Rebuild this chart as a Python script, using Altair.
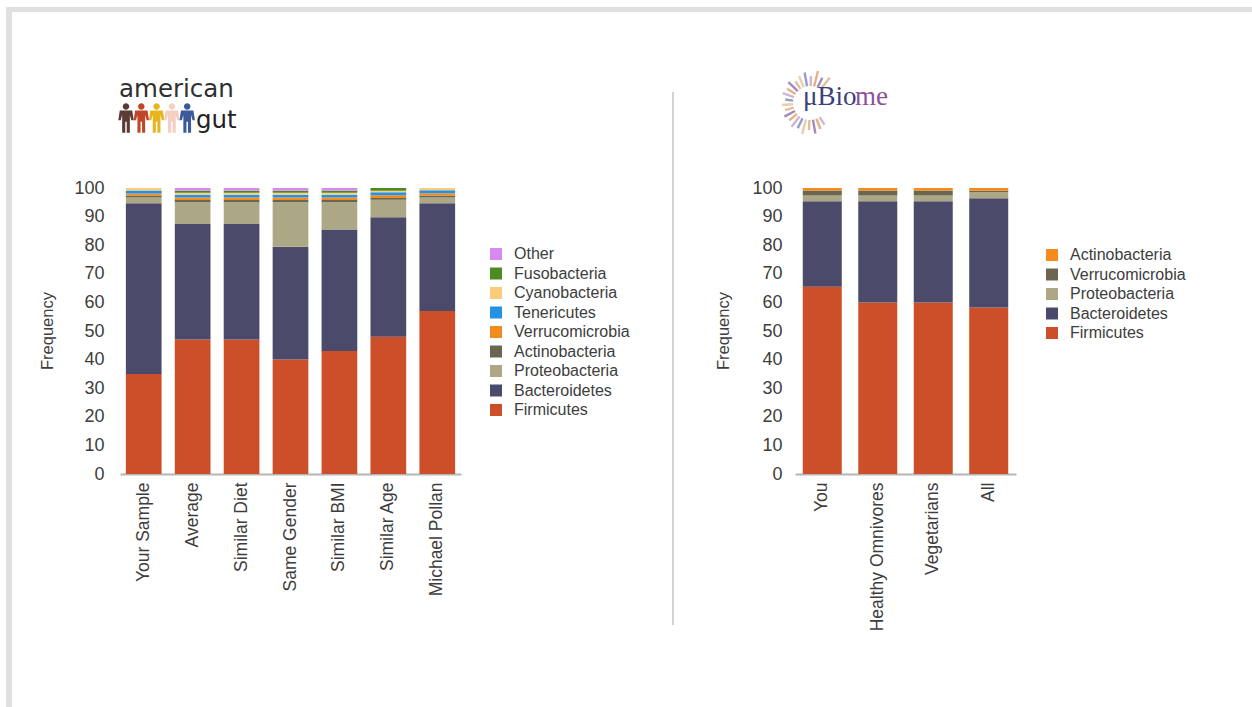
import altair as alt
import pandas as pd
import numpy as np

# ---------------- data ----------------
ag_samples = ["Your Sample", "Average", "Similar Diet", "Same Gender",
              "Similar BMI", "Similar Age", "Michael Pollan"]
ag_firmicutes = [35.0, 47.0, 47.0, 40.0, 43.0, 48.0, 57.0]
ag_bacteroidetes = [59.7, 40.4, 40.4, 39.5, 42.5, 41.8, 37.7]
ag_proteobacteria = [2.0, 7.6, 7.6, 15.5, 9.5, 6.1, 2.0]
ag_actinobacteria = [0.7, 0.8, 0.8, 0.8, 0.8, 0.6, 0.7]
ag_verrucomicrobia = [0.7, 0.9, 0.9, 0.9, 0.9, 1.0, 0.8]
ag_tenericutes = [1.0, 0.9, 0.9, 0.9, 0.9, 1.0, 1.0]
ag_cyanobacteria = [0.9, 0.7, 0.7, 0.7, 0.7, 0.5, 0.8]
ag_fusobacteria = [0.0, 0.7, 0.7, 0.7, 0.7, 1.0, 0.0]
ag_other = [0.0, 1.0, 1.0, 1.0, 1.0, 0.0, 0.0]

ag_phyla = ["Firmicutes", "Bacteroidetes", "Proteobacteria", "Actinobacteria",
            "Verrucomicrobia", "Tenericutes", "Cyanobacteria", "Fusobacteria", "Other"]
ag_values = [ag_firmicutes, ag_bacteroidetes, ag_proteobacteria, ag_actinobacteria,
             ag_verrucomicrobia, ag_tenericutes, ag_cyanobacteria, ag_fusobacteria, ag_other]
ag_colors = ["#cc4f2a", "#4b4a6b", "#aca886", "#6c6651",
             "#f38c1c", "#2592e6", "#f9cd7a", "#4c8a22", "#d68af0"]

ub_samples = ["You", "Healthy Omnivores", "Vegetarians", "All"]
ub_firmicutes = [65.5, 60.0, 60.0, 58.2]
ub_bacteroidetes = [29.9, 35.4, 35.4, 38.2]
ub_proteobacteria = [2.0, 2.0, 2.0, 2.1]
ub_verrucomicrobia = [1.7, 1.7, 1.7, 0.5]
ub_actinobacteria = [0.9, 0.9, 0.9, 1.0]

ub_phyla = ["Firmicutes", "Bacteroidetes", "Proteobacteria", "Verrucomicrobia", "Actinobacteria"]
ub_values = [ub_firmicutes, ub_bacteroidetes, ub_proteobacteria, ub_verrucomicrobia, ub_actinobacteria]
ub_colors = ["#cc4f2a", "#4b4a6b", "#aca886", "#6c6651", "#f38c1c"]

y_ticks = list(range(0, 101, 10))

def long_table(samples, phyla, values):
    rows = []
    for rank, (ph, vals) in enumerate(zip(phyla, values)):
        for s, v in zip(samples, vals):
            rows.append({"sample": s, "phylum": ph, "value": v, "rank": rank})
    return pd.DataFrame(rows)

ag_df = long_table(ag_samples, ag_phyla, ag_values)
ub_df = long_table(ub_samples, ub_phyla, ub_values)

W, H = 1252, 707
FONT = "Liberation Sans"
TXT = "#3d3d3d"
Y0, Y100 = 474, 188

def bars(df, samples, phyla, colors, xrange, pin, pout, y_off, lab_pad, lx, ly):
    return alt.Chart(df).mark_bar().encode(
        x=alt.X("sample:N", sort=samples,
                scale=alt.Scale(domain=samples, range=xrange,
                                paddingInner=pin, paddingOuter=pout),
                axis=alt.Axis(orient="bottom", offset=Y0 - H, labelAngle=-90,
                              labelFontSize=17.5, labelFont=FONT, labelColor=TXT,
                              ticks=False, tickSize=0, domainColor="#b5b5b5",
                              domainWidth=2, labelPadding=8, title=None, grid=False)),
        y=alt.Y("value:Q", stack="zero",
                scale=alt.Scale(domain=[0, 100], range=[Y0, Y100], nice=False),
                axis=alt.Axis(orient="left", offset=-y_off, values=y_ticks,
                              labelFontSize=18, labelFont=FONT, labelColor=TXT,
                              ticks=False, tickSize=0, domain=False, grid=False,
                              labelPadding=lab_pad, title=None)),
        color=alt.Color("phylum:N",
                        scale=alt.Scale(domain=phyla[::-1], range=colors[::-1]),
                        legend=alt.Legend(orient="none", legendX=lx, legendY=ly,
                                          title=None, symbolType="square",
                                          symbolSize=144, symbolStrokeWidth=0,
                                          labelFontSize=16, labelFont=FONT,
                                          labelColor=TXT, rowPadding=3.5,
                                          labelOffset=10, padding=0)),
        order=alt.Order("rank:Q", sort="ascending"),
    )

ag_bars = bars(ag_df, ag_samples, ag_phyla, ag_colors, [120, 461], 0.27, 0.12, 120, 16, 488, 246)
ub_bars = bars(ub_df, ub_samples, ub_phyla, ub_colors, [795, 1016], 0.297, 0.14, 795, 13, 1044, 247)

one = pd.DataFrame({"a": [0]})

def rule(x, x2, y, y2, color, width):
    return alt.Chart(one).mark_rule(color=color, strokeWidth=width).encode(
        x=alt.value(x), x2=alt.value(x2), y=alt.value(y), y2=alt.value(y2))

frame_top = rule(6, W, 9.5, 9.5, "#e0e0e0", 5)
frame_left = rule(9, 9, 7, H, "#e0e0e0", 6)
divider = rule(673, 673, 92, 625, "#d2d2d2", 2)

def text(t, x, y, size, color=TXT, angle=0, font=FONT, align="center", weight="normal"):
    return alt.Chart(pd.DataFrame({"t": [t]})).mark_text(
        fontSize=size, font=font, color=color, angle=angle, align=align,
        baseline="middle", fontWeight=weight).encode(
        text="t:N", x=alt.value(x), y=alt.value(y))

freq_left = text("Frequency", 48, 331, 16.5, angle=270)
freq_right = text("Frequency", 724, 331, 16.5, angle=270)

# ---- american gut logo ----
ag_logo1 = text("american", 119, 90, 24.5, color="#303030", font="DejaVu Sans", align="left")
ag_logo2 = text("gut", 196, 121, 24.5, color="#222222", font="DejaVu Sans", align="left")
person_colors = ["#5b3b33", "#c0462a", "#e6b520", "#f5cfc2", "#3c5a9a"]
person_df = pd.DataFrame({"px": [126 + 15.3 * i for i in range(5)],
                          "py": [118] * 5, "c": person_colors})
person_path = ("M0,-1 A0.22,0.22 0 1,1 0,-0.56 A0.22,0.22 0 1,1 0,-1 Z "
               "M-0.42,-0.5 L0.42,-0.5 L0.52,0.15 L0.36,0.15 L0.26,-0.2 L0.26,1 "
               "L0.05,1 L0.05,0.25 L-0.05,0.25 L-0.05,1 L-0.26,1 L-0.26,-0.2 "
               "L-0.36,0.15 L-0.52,0.15 Z")
people = alt.Chart(person_df).mark_point(shape=person_path, filled=True, size=880,
                                         opacity=1, strokeWidth=0).encode(
    x=alt.X("px:Q", scale=None, axis=None),
    y=alt.Y("py:Q", scale=None, axis=None),
    color=alt.Color("c:N", scale=None, legend=None))

# ---- uBiome logo ----
ray_angles = [52, 64, 76, 88, 100, 112, 124, 136, 148, 160, 172, 184, 196,
              208, 220, 232, 244, 256, 268, 280, 292, 304]
ray_lengths = [32, 28, 33, 27, 31, 29, 26, 30, 27, 29, 25, 28, 26, 29, 27,
               30, 28, 32, 27, 31, 28, 26]
ray_palette = ["#d9b48c", "#8f78ad", "#e3a272", "#c9a9c9", "#7d8fbf", "#e8c39e"]
cx, cy, r_in = 810, 103, 17
rad = np.deg2rad(ray_angles)
ray_df = pd.DataFrame({
    "x": cx + r_in * np.cos(rad), "y": cy - r_in * np.sin(rad),
    "x2": cx + np.array(ray_lengths) * np.cos(rad),
    "y2": cy - np.array(ray_lengths) * np.sin(rad),
    "c": [ray_palette[i % len(ray_palette)] for i in range(len(ray_angles))]})
rays = alt.Chart(ray_df).mark_rule(strokeWidth=2.4, opacity=0.85).encode(
    x=alt.X("x:Q", scale=None, axis=None), y=alt.Y("y:Q", scale=None, axis=None),
    x2="x2:Q", y2="y2:Q", color=alt.Color("c:N", scale=None, legend=None))
ub_logo1 = text("\u03bcBio", 803, 97, 27, color="#3b3f7a", font="Liberation Serif", align="left")
ub_logo2 = text("me", 855, 97, 27, color="#8e4f9b", font="Liberation Serif", align="left")

chart = alt.layer(
    frame_top, frame_left, divider,
    ag_bars, ub_bars,
    freq_left, freq_right,
    ag_logo1, ag_logo2, people,
    rays, ub_logo1, ub_logo2,
).resolve_scale(
    x="independent", y="independent", color="independent"
).properties(
    width=W, height=H, padding=0, autosize="none", background="white"
).configure_view(stroke=None)

chart.save("out.html", embed_options={"renderer": "svg", "actions": False})
